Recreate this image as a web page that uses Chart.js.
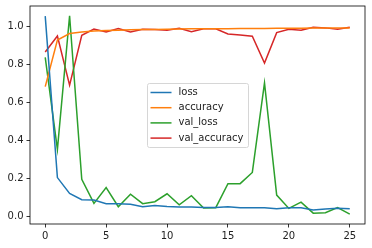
<!DOCTYPE html>
<html>
<head>
<meta charset="utf-8">
<script src="https://cdn.jsdelivr.net/npm/chart.js@4/dist/chart.umd.min.js"></script>
<style>
  html, body { margin: 0; padding: 0; background: #fff; }
  #wrap { width: 372px; height: 248px; }
</style>
</head>
<body>
<div id="wrap"><canvas id="chart"></canvas></div>
<script>
// epochs 0..25
const epochs = [0, 1, 2, 3, 4, 5, 6, 7, 8, 9, 10, 11, 12, 13, 14, 15, 16, 17, 18, 19, 20, 21, 22, 23, 24, 25];
const loss = [1.054, 0.205, 0.122, 0.089, 0.087, 0.068, 0.067, 0.065, 0.052, 0.058, 0.053, 0.051, 0.050, 0.048, 0.048, 0.052, 0.047, 0.046, 0.047, 0.041, 0.047, 0.046, 0.035, 0.040, 0.044, 0.041];
const accuracy = [0.683, 0.928, 0.962, 0.970, 0.975, 0.978, 0.980, 0.982, 0.983, 0.984, 0.985, 0.986, 0.987, 0.987, 0.988, 0.988, 0.989, 0.989, 0.989, 0.990, 0.990, 0.990, 0.991, 0.991, 0.991, 0.991];
const valLoss = [0.837, 0.353, 1.056, 0.196, 0.069, 0.152, 0.052, 0.118, 0.068, 0.078, 0.120, 0.062, 0.110, 0.045, 0.047, 0.173, 0.173, 0.232, 0.703, 0.113, 0.043, 0.076, 0.018, 0.020, 0.047, 0.013];
const valAccuracy = [0.865, 0.949, 0.691, 0.953, 0.986, 0.970, 0.988, 0.970, 0.985, 0.984, 0.980, 0.990, 0.972, 0.987, 0.987, 0.960, 0.955, 0.948, 0.807, 0.967, 0.985, 0.979, 0.995, 0.992, 0.985, 0.995];
const xTicks = [0, 5, 10, 15, 20, 25];
const yTicks = [0.0, 0.2, 0.4, 0.6, 0.8, 1.0];

const seriesNames = ['loss', 'accuracy', 'val_loss', 'val_accuracy'];
const seriesColors = ['#1f77b4', '#ff7f0e', '#2ca02c', '#d62728'];
const seriesValues = [loss, accuracy, valLoss, valAccuracy];

const FONT = 'DejaVu Sans';

/**
 * Frame around the plot area (all four spines)
 */
const framePlugin = {
    id: 'frame',
    afterDatasetsDraw(chart) {
        const a = chart.chartArea;
        const ctx = chart.ctx;
        ctx.save();
        ctx.strokeStyle = '#000';
        ctx.lineWidth = 0.8;
        ctx.strokeRect(a.left, a.top, a.right - a.left, a.bottom - a.top);
        ctx.restore();
    }
};

/**
 * Legend box drawn in the middle of the plot, like matplotlib's "best" spot
 */
const centerLegendPlugin = {
    id: 'centerLegend',
    afterDraw(chart) {
        const a = chart.chartArea;
        const ctx = chart.ctx;
        const w = 101, h = 64;
        const x = Math.round((a.left + a.right) / 2 - w / 2) + 0.5;
        const y = Math.round((a.top + a.bottom) / 2 - h / 2) + 0.5;

        ctx.save();
        ctx.beginPath();
        ctx.roundRect(x, y, w, h, 2);
        ctx.fillStyle = 'rgba(255,255,255,0.8)';
        ctx.fill();
        ctx.strokeStyle = '#d6d6d6';
        ctx.lineWidth = 1;
        ctx.stroke();

        ctx.font = '10px ' + FONT;
        ctx.textBaseline = 'middle';
        ctx.fillStyle = '#222';
        chart.data.datasets.forEach((ds, i) => {
            const rowY = y + 9 + i * 15.2;
            ctx.strokeStyle = ds.borderColor;
            ctx.lineWidth = 1.5;
            ctx.beginPath();
            ctx.moveTo(x + 3, rowY);
            ctx.lineTo(x + 24, rowY);
            ctx.stroke();
            ctx.fillText(ds.label, x + 31, rowY);
        });
        ctx.restore();
    }
};

const datasets = seriesNames.map((name, i) => ({
    label: name,
    data: epochs.map((e, j) => ({ x: e, y: seriesValues[i][j] })),
    borderColor: seriesColors[i],
    backgroundColor: seriesColors[i],
    borderWidth: 1.5,
    pointRadius: 0,
    tension: 0,
    fill: false
}));

new Chart(document.getElementById('chart'), {
    type: 'line',
    data: { datasets: datasets },
    options: {
        responsive: true,
        maintainAspectRatio: false,
        animation: false,
        layout: { padding: { top: 6, right: 7, left: 0, bottom: 0 } },
        plugins: {
            legend: { display: false },
            tooltip: { enabled: false }
        },
        scales: {
            x: {
                type: 'linear',
                min: -1.25,
                max: 26.25,
                afterBuildTicks: axis => { axis.ticks = xTicks.map(v => ({ value: v })); },
                afterFit: axis => {
                    axis.height = 24;
                    axis.paddingLeft = 0;
                    axis.paddingRight = 0;
                },
                grid: { drawOnChartArea: false, drawTicks: true, tickLength: 3.5, color: '#000', tickWidth: 0.8 },
                border: { display: false },
                ticks: { color: '#222', font: { family: FONT, size: 10 }, padding: 3, maxRotation: 0 }
            },
            y: {
                type: 'linear',
                min: -0.039,
                max: 1.107,
                afterBuildTicks: axis => { axis.ticks = yTicks.map(v => ({ value: v })); },
                afterFit: axis => {
                    axis.width = 30;
                    axis.paddingTop = 0;
                    axis.paddingBottom = 0;
                },
                grid: { drawOnChartArea: false, drawTicks: true, tickLength: 3.5, color: '#000', tickWidth: 0.8 },
                border: { display: false },
                ticks: {
                    color: '#222',
                    font: { family: FONT, size: 10 },
                    padding: 3,
                    callback: v => v.toFixed(1)
                }
            }
        }
    },
    plugins: [framePlugin, centerLegendPlugin]
});
</script>
</body>
</html>
